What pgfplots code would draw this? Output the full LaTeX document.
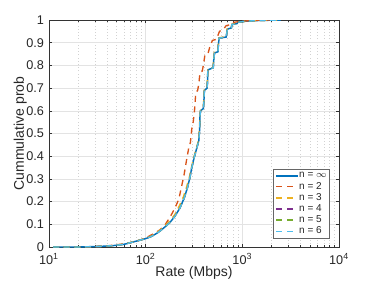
\documentclass[border=0pt]{standalone}
\usepackage{pgfplots}
\pgfplotsset{compat=1.18}
\usepackage{fontspec}
\setmainfont{Liberation Sans}
\definecolor{c1}{rgb}{0,0.447,0.741}
\definecolor{c2}{rgb}{0.850,0.325,0.098}
\definecolor{c3}{rgb}{0.929,0.694,0.125}
\definecolor{c4}{rgb}{0.494,0.184,0.556}
\definecolor{c5}{rgb}{0.466,0.674,0.188}
\definecolor{c6}{rgb}{0.301,0.745,0.933}
\pgfplotstableread{
x y
11 0
20 0
25 0.001
35 0.003
46 0.006
60 0.012
74 0.022
87 0.030
100 0.037
115 0.047
130 0.060
145 0.075
160 0.090
180 0.110
200 0.135
225 0.170
250 0.215
270 0.260
285 0.300
300 0.350
320 0.400
340 0.440
355 0.470
362 0.520
365 0.580
370 0.600
395 0.610
400 0.640
405 0.690
432 0.700
436 0.730
440 0.780
500 0.790
505 0.820
515 0.855
560 0.860
565 0.890
575 0.920
680 0.925
690 0.940
700 0.960
770 0.965
780 0.980
880 0.984
900 0.990
1100 0.995
1500 0.998
2500 1.000
}\tinf
\pgfplotstableread{
x y
11 0
20 0
30 0.002
40 0.005
50 0.010
60 0.014
75 0.022
87 0.030
100 0.040
120 0.058
140 0.075
160 0.100
180 0.134
200 0.170
220 0.210
235 0.266
250 0.320
265 0.384
280 0.440
290 0.460
300 0.520
310 0.550
320 0.600
330 0.680
345 0.690
355 0.720
365 0.770
385 0.775
395 0.800
410 0.845
440 0.850
460 0.880
490 0.910
540 0.915
580 0.950
640 0.960
680 0.975
760 0.980
820 0.990
1000 0.995
1500 0.999
2000 1.000
}\ttwo
\pgfplotstableread{
x y
11 0
20 0
25 0.001
35 0.003
46 0.006
60 0.013
74 0.023
87 0.031
100 0.038
115 0.049
130 0.063
145 0.079
160 0.095
180 0.117
200 0.143
222 0.180
245 0.220
265 0.265
282 0.305
298 0.352
318 0.402
338 0.442
353 0.472
360 0.522
364 0.582
369 0.602
393 0.612
398 0.642
404 0.692
430 0.702
435 0.732
439 0.782
498 0.792
503 0.822
513 0.857
558 0.862
563 0.892
573 0.922
678 0.927
688 0.942
698 0.962
768 0.967
778 0.981
880 0.985
900 0.990
1100 0.995
1500 0.998
2500 1.000
}\tthree
\begin{document}
\begin{tikzpicture}
\begin{axis}[
  scale only axis,
  width=217.5pt, height=170.25pt,
  xmode=log, xmin=10, xmax=10000, ymin=0, ymax=1,
  xtick={10,100,1000,10000},
  xticklabels={10\textsuperscript{1},10\textsuperscript{2},10\textsuperscript{3},10\textsuperscript{4}},
  ytick={0,0.1,0.2,0.3,0.4,0.5,0.6,0.7,0.8,0.9,1},
  yticklabels={0,0.1,0.2,0.3,0.4,0.5,0.6,0.7,0.8,0.9,1},
  minor x tick num=8,
  tick align=inside,
  major tick length=2.5pt,
  minor tick length=1.5pt,
  xmajorgrids, ymajorgrids, xminorgrids,
  major grid style={gray!22, line width=0.4pt},
  minor grid style={gray!35, dotted, line width=0.4pt},
  axis line style={black!80, line width=0.4pt},
  every tick/.style={black!80, line width=0.4pt},
  ticklabel style={font=\fontsize{9.5}{10}\selectfont, text=black!85},
  xticklabel style={yshift=-1pt},
  yticklabel style={xshift=-0.3pt},
  label style={font=\fontsize{10.5}{12}\selectfont, text=black!85},
  xlabel={Rate (Mbps)},
  ylabel={Cummulative prob},
  xlabel style={at={(axis description cs:0.5,0)}, anchor=base, yshift=-22pt},
  ylabel style={at={(axis description cs:0,0.5)}, anchor=center, yshift=21.5pt},
  legend cell align=left,
  legend style={at={(0.969,0.035)}, anchor=south east, draw=black!60, line width=0.6pt,
    font=\fontsize{7.5}{8}\selectfont, row sep=0.5pt, inner sep=1.5pt,
    nodes={inner sep=0.6pt}, text=black!85},
  legend image code/.code={\draw[#1, line width=1.1pt] (0pt,0pt) -- (16pt,0pt);},
]
\addplot[c1, line width=1.1pt] table {\tinf};
\addlegendentry{n = $\infty$}
\addplot[c2, line width=1pt, dash pattern=on 4.5pt off 3.5pt] table {\ttwo};
\addlegendentry{n = 2}
\addplot[c3, line width=1pt, dash pattern=on 4.5pt off 3.5pt] table {\tthree};
\addlegendentry{n = 3}
\addplot[c4, line width=1pt, dash pattern=on 4.5pt off 3.5pt] table {\tinf};
\addlegendentry{n = 4}
\addplot[c5, line width=1pt, dash pattern=on 4.5pt off 3.5pt] table {\tinf};
\addlegendentry{n = 5}
\addplot[c6, line width=1pt, dash pattern=on 4.5pt off 3.5pt] table {\tinf};
\addlegendentry{n = 6}
\end{axis}
\path (-36.75pt,-24.75pt) rectangle (243.75pt,185.25pt);
\end{tikzpicture}
\end{document}
